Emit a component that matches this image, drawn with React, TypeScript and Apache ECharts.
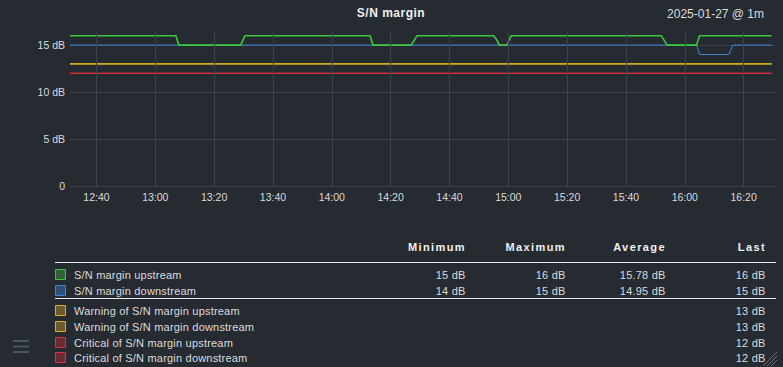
import React, { useEffect, useRef } from "react";
import * as echarts from "echarts";

const title = "S/N margin";
const subtitle = "2025-01-27 @ 1m";

const xStart = "12:31:00";
const xEnd = "16:30:40";
const xTickLabels = ["12:40", "13:00", "13:20", "13:40", "14:00", "14:20", "14:40", "15:00", "15:20", "15:40", "16:00", "16:20"];

// vertices of the measured lines [time, dB]
const upstream: [string, number][] = [
  ["12:31:00", 16], ["13:07:00", 16], ["13:08:00", 15], ["13:29:00", 15], ["13:30:30", 16],
  ["14:13:00", 16], ["14:14:00", 15], ["14:27:00", 15], ["14:29:00", 16],
  ["14:55:00", 16], ["14:56:00", 15.6], ["14:57:00", 15], ["14:59:30", 15], ["15:01:00", 16],
  ["15:52:00", 16], ["15:54:00", 15], ["16:04:00", 15], ["16:05:00", 16], ["16:29:30", 16],
];
const downstream: [string, number][] = [
  ["12:31:00", 15], ["16:04:00", 15], ["16:05:00", 14], ["16:15:00", 14], ["16:16:20", 15], ["16:29:30", 15],
];
const lastTime = "16:29:30";
const warnUp = 13;
const warnDown = 13;
const critUp = 12;
const critDown = 12;

const seriesNames = [
  "S/N margin upstream",
  "S/N margin downstream",
  "Warning of S/N margin upstream",
  "Warning of S/N margin downstream",
  "Critical of S/N margin upstream",
  "Critical of S/N margin downstream",
];
const lineColors = ["#3cc83c", "#3d87d8", "#d9b020", "#d9b020", "#e0303c", "#e0303c"];
const boxFills = ["#2f6236", "#2e4f78", "#6a5a27", "#6a5a27", "#6a2b33", "#6a2b33"];

const statHeaders = ["Minimum", "Maximum", "Average", "Last"];
const statMin = ["15 dB", "14 dB", "", "", "", ""];
const statMax = ["16 dB", "15 dB", "", "", "", ""];
const statAvg = ["15.78 dB", "14.95 dB", "", "", "", ""];
const statLast = ["16 dB", "15 dB", "13 dB", "13 dB", "12 dB", "12 dB"];

const yTicks = [0, 5, 10, 15];
const yMax = 16.5;

const BG = "#262a31";
const GRID = "#3d434b";
const FONT = "Liberation Sans, Arial, sans-serif";

const toMin = (hms: string) => {
  const [h, m, s] = hms.split(":").map(Number);
  return h * 60 + m + (s || 0) / 60;
};
const fmtMin = (v: number) => {
  const h = Math.floor(v / 60);
  const m = Math.round(v - h * 60);
  return `${String(h).padStart(2, "0")}:${String(m).padStart(2, "0")}`;
};

const css = `
#snchart svg text[style*="11px"] { letter-spacing: 0.2px; }
#snchart svg text[style*="bold 11px"] { letter-spacing: 1.4px; }
#snchart svg text[style*="bold 12px"] { letter-spacing: 0.5px; }
`;

export default function App() {
  const ref = useRef<HTMLDivElement>(null);
  useEffect(() => {
    document.body.style.margin = "0";
    document.body.style.background = BG;
    const chart = echarts.init(ref.current!, null, { renderer: "svg" });

    const constLine = (v: number) => [[toMin(xStart), v], [toMin(lastTime), v]];
    const seriesData = [
      upstream.map(([h, v]) => [toMin(h), v]),
      downstream.map(([h, v]) => [toMin(h), v]),
      constLine(warnUp),
      constLine(warnDown),
      constLine(critUp),
      constLine(critDown),
    ];
    const tickVals = xTickLabels.map(toMin);
    const gridSeries = {
      name: "grid",
      type: "line",
      data: [],
      silent: true,
      z: 1,
      markLine: {
        silent: true,
        symbol: "none",
        label: { show: false },
        lineStyle: { color: GRID, type: "solid", width: 1 },
        emphasis: { disabled: true },
        data: tickVals.map((x) => ({ xAxis: x })),
      },
    };
    const order = [4, 5, 2, 3, 1, 0];
    const series: any[] = [gridSeries];
    order.forEach((i) =>
      series.push({
        name: seriesNames[i],
        type: "line",
        data: seriesData[i],
        showSymbol: false,
        symbol: "none",
        z: 3,
        lineStyle: { color: lineColors[i], width: i === 0 ? 1.6 : i === 2 || i === 3 ? 1.3 : 1 },
        itemStyle: { color: lineColors[i] },
        silent: true,
      })
    );

    const cols = [465, 565, 665, 765];
    const rowsY = [274.5, 290.5, 310.5, 326.5, 342.5, 358];
    const txtColor = "#dcdcdc";
    const g: any[] = [];
    g.push({
      type: "text", x: 391, y: 13,
      style: { text: title, fill: "#f0f0f0", font: `bold 12px ${FONT}`, align: "center", verticalAlign: "middle" },
    });
    g.push({
      type: "text", x: 764, y: 14,
      style: { text: subtitle, fill: "#dcdcdc", font: `12px ${FONT}`, align: "right", verticalAlign: "middle" },
    });
    statHeaders.forEach((h, k) => {
      g.push({
        type: "text", x: cols[k] + 1, y: 247,
        style: { text: h, fill: "#f0f0f0", font: `bold 11px ${FONT}`, align: "right", verticalAlign: "middle" },
      });
    });
    g.push({ type: "line", shape: { x1: 55, y1: 262.5, x2: 776, y2: 262.5 }, style: { stroke: "#e8e8e8", lineWidth: 1 } });
    g.push({ type: "line", shape: { x1: 55, y1: 298.5, x2: 776, y2: 298.5 }, style: { stroke: "#e8e8e8", lineWidth: 1 } });
    seriesNames.forEach((name, i) => {
      const y = rowsY[i];
      g.push({
        type: "rect", shape: { x: 55.5, y: Math.round(y) - 5.5, width: 10, height: 10 },
        style: { fill: boxFills[i], stroke: lineColors[i], lineWidth: 1 },
      });
      g.push({
        type: "text", x: 74, y,
        style: { text: name, fill: txtColor, font: `11px ${FONT}`, align: "left", verticalAlign: "middle" },
      });
      const vals = [statMin[i], statMax[i], statAvg[i], statLast[i]];
      vals.forEach((v, k) => {
        if (!v) return;
        g.push({
          type: "text", x: cols[k] + 0.5, y,
          style: { text: v, fill: txtColor, font: `11px ${FONT}`, align: "right", verticalAlign: "middle" },
        });
      });
    });
    // menu icon
    [341, 346.5, 352].forEach((yy) => {
      g.push({ type: "rect", shape: { x: 13, y: yy - 1, width: 16, height: 2 }, style: { fill: "#4a5561" } });
    });
    // resize grip
    [[767, 366, 777, 356], [771, 366, 777, 360], [763, 366, 777, 352]].forEach(([a, b, c, d]) => {
      g.push({ type: "line", shape: { x1: a, y1: b, x2: c, y2: d }, style: { stroke: "#6a6f76", lineWidth: 1 } });
    });

    chart.setOption({
      animation: false,
      backgroundColor: BG,
      grid: { left: 70, right: 8, top: 31, bottom: 181, containLabel: false },
      xAxis: {
        type: "value",
        min: toMin(xStart),
        max: toMin(xEnd),
        axisLine: { show: true, lineStyle: { color: GRID } },
        axisTick: { show: false, customValues: tickVals },
        splitLine: { show: false },
        axisLabel: {
          customValues: tickVals,
          formatter: (v: number) => fmtMin(v),
          color: "#dcdcdc",
          fontFamily: FONT,
          fontSize: 10.5,
          margin: 5,
        },
      },
      yAxis: {
        type: "value",
        min: 0,
        max: yMax,
        interval: 5,
        axisLine: { show: false },
        axisTick: { show: false },
        splitLine: { show: true, lineStyle: { color: [GRID, GRID, GRID, GRID, "rgba(0,0,0,0)"] } },
        axisLabel: {
          color: "#dcdcdc",
          fontFamily: FONT,
          fontSize: 10.5,
          margin: 5,
          formatter: (v: number) => (yTicks.includes(v) ? (v === 0 ? "0" : `${v} dB`) : ""),
        },
      },
      series,
      graphic: g,
    });
    return () => chart.dispose();
  }, []);
  return (
    <>
      <style>{css}</style>
      <div id="snchart" ref={ref} style={{ position: "fixed", left: 0, top: 0, width: 783, height: 367 }} />
    </>
  );
}
